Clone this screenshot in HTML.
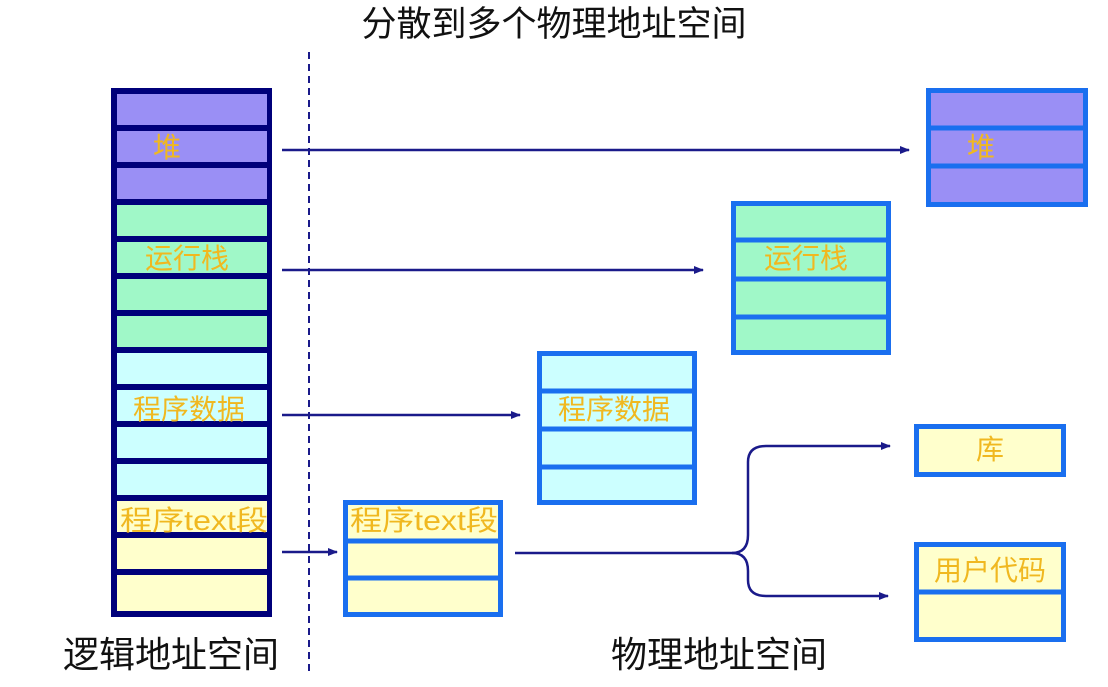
<!DOCTYPE html>
<html><head><meta charset="utf-8"><style>
body{margin:0;background:#fff;}
svg text{font-family:"Liberation Sans","Noto Sans CJK SC",sans-serif;}
</style></head><body>
<svg width="1108" height="682" viewBox="0 0 1108 682" xmlns="http://www.w3.org/2000/svg">
<defs><marker id="a" markerWidth="10" markerHeight="8" refX="9" refY="4" orient="auto" markerUnits="userSpaceOnUse"><path d="M0,0 L10,4 L0,8 z" fill="#1a1a8a"/></marker></defs>
<text x="554" y="36" font-size="35" text-anchor="middle" fill="#111">分散到多个物理地址空间</text>
<line x1="309" y1="52" x2="309" y2="676" stroke="#1a1a8a" stroke-width="2" stroke-dasharray="7,5"/>
<rect x="111" y="88" width="161" height="529" fill="#00007a"/>
<g>
<rect x="117" y="94" width="150" height="31" fill="#9a8ff5"/>
<rect x="117" y="131" width="150" height="31" fill="#9a8ff5"/>
<rect x="117" y="168" width="150" height="31" fill="#9a8ff5"/>
<rect x="117" y="205" width="150" height="31" fill="#a0f8c8"/>
<rect x="117" y="242" width="150" height="31" fill="#a0f8c8"/>
<rect x="117" y="279" width="150" height="31" fill="#a0f8c8"/>
<rect x="117" y="316" width="150" height="31" fill="#a0f8c8"/>
<rect x="117" y="353" width="150" height="31" fill="#ccffff"/>
<rect x="117" y="390" width="150" height="31" fill="#ccffff"/>
<rect x="117" y="427" width="150" height="31" fill="#ccffff"/>
<rect x="117" y="464" width="150" height="31" fill="#ccffff"/>
<rect x="117" y="501" width="150" height="31" fill="#ffffcc"/>
<rect x="117" y="538" width="150" height="31" fill="#ffffcc"/>
<rect x="117" y="575" width="150" height="36" fill="#ffffcc"/>
</g>
<g font-size="28" fill="#f0b820">
<text x="153" y="157">堆</text>
<text x="145" y="268">运行栈</text>
<text x="133" y="419">程序数据</text>
<text x="120" y="530" textLength="148" lengthAdjust="spacingAndGlyphs">程序text段</text>
</g>
<rect x="928.5" y="90.5" width="157" height="114" fill="#9a8ff5" stroke="#1a6fef" stroke-width="5"/>
<line x1="928" y1="128" x2="1086" y2="128" stroke="#1a6fef" stroke-width="5"/>
<line x1="928" y1="166" x2="1086" y2="166" stroke="#1a6fef" stroke-width="5"/>
<text x="967" y="157" font-size="28" fill="#f0b820">堆</text>
<rect x="733.5" y="203.5" width="155" height="149" fill="#a0f8c8" stroke="#1a6fef" stroke-width="5"/>
<line x1="733" y1="240" x2="889" y2="240" stroke="#1a6fef" stroke-width="5"/>
<line x1="733" y1="279" x2="889" y2="279" stroke="#1a6fef" stroke-width="5"/>
<line x1="733" y1="317" x2="889" y2="317" stroke="#1a6fef" stroke-width="5"/>
<text x="764" y="268" font-size="28" fill="#f0b820">运行栈</text>
<rect x="539.5" y="353.5" width="155" height="149" fill="#ccffff" stroke="#1a6fef" stroke-width="5"/>
<line x1="539" y1="391" x2="695" y2="391" stroke="#1a6fef" stroke-width="5"/>
<line x1="539" y1="429" x2="695" y2="429" stroke="#1a6fef" stroke-width="5"/>
<line x1="539" y1="467" x2="695" y2="467" stroke="#1a6fef" stroke-width="5"/>
<text x="558" y="419" font-size="28" fill="#f0b820">程序数据</text>
<rect x="345.5" y="502.5" width="155" height="112" fill="#ffffcc" stroke="#1a6fef" stroke-width="5"/>
<line x1="345" y1="541" x2="501" y2="541" stroke="#1a6fef" stroke-width="5"/>
<line x1="345" y1="578" x2="501" y2="578" stroke="#1a6fef" stroke-width="5"/>
<text x="350" y="530" font-size="28" fill="#f0b820" textLength="148" lengthAdjust="spacingAndGlyphs">程序text段</text>
<rect x="916.5" y="426.5" width="147" height="48" fill="#ffffcc" stroke="#1a6fef" stroke-width="5"/>
<text x="990" y="459" font-size="28" fill="#f0b820" text-anchor="middle">库</text>
<rect x="916.5" y="544.5" width="147" height="95" fill="#ffffcc" stroke="#1a6fef" stroke-width="5"/>
<line x1="916" y1="592" x2="1064" y2="592" stroke="#1a6fef" stroke-width="5"/>
<text x="990" y="580" font-size="28" fill="#f0b820" text-anchor="middle">用户代码</text>
<g stroke="#1a1a8a" stroke-width="2.5" fill="none">
<line x1="282" y1="150" x2="909" y2="150" marker-end="url(#a)"/>
<line x1="282" y1="270" x2="703" y2="270" marker-end="url(#a)"/>
<line x1="282" y1="415" x2="520" y2="415" marker-end="url(#a)"/>
<line x1="282" y1="552" x2="337" y2="552" marker-end="url(#a)"/>
<path d="M515,553 L732,553 Q748,553 748,535 L748,462 Q748,446 766,446 L890,446" marker-end="url(#a)"/>
<path d="M732,553 Q748,553 748,571 L748,580 Q748,596 766,596 L888,596" marker-end="url(#a)"/>
</g>
<text x="63" y="667" font-size="36" fill="#111">逻辑地址空间</text>
<text x="611" y="667" font-size="36" fill="#111">物理地址空间</text>
</svg>
</body></html>
